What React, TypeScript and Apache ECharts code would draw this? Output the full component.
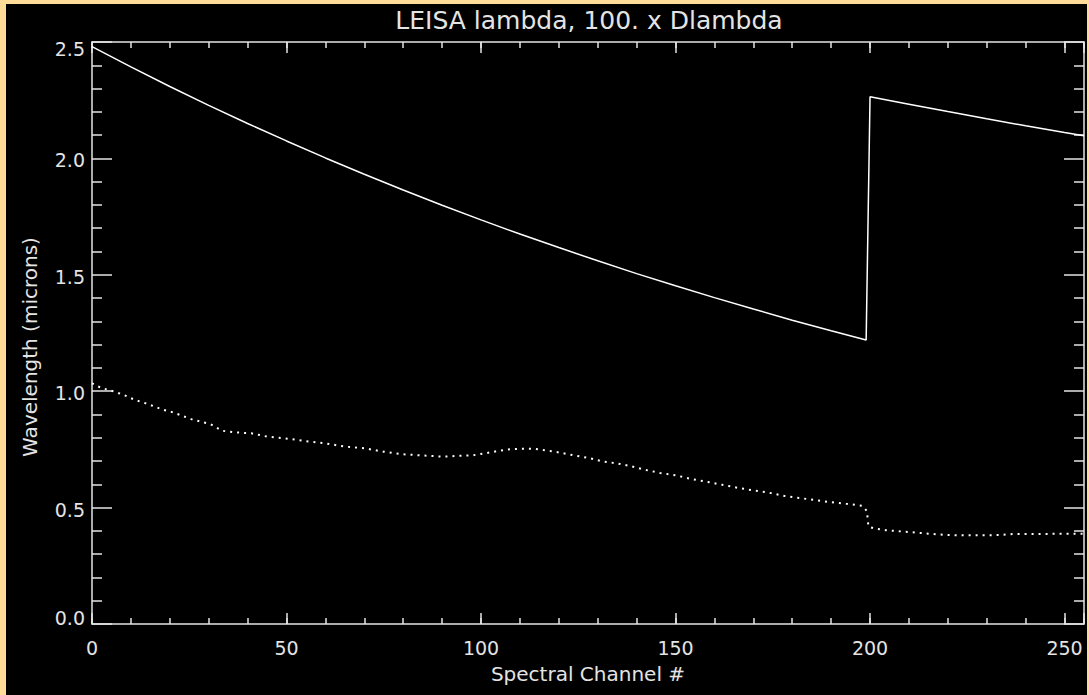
import React, { useEffect, useRef } from "react";
import * as echarts from "echarts";

const titleText = "LEISA lambda, 100. x Dlambda";
const xName = "Spectral Channel #";
const yName = "Wavelength (microns)";

// lambda (solid line)
const lambdaChannels = [0, 10, 20, 30, 40, 50, 60, 70, 80, 90, 100, 110, 120, 130, 140, 150, 160, 170, 180, 190, 199, 200, 210, 220, 230, 240, 250, 255];
const lambdaValues = [2.48, 2.393, 2.309, 2.228, 2.15, 2.075, 2.002, 1.932, 1.864, 1.799, 1.736, 1.675, 1.617, 1.56, 1.505, 1.453, 1.402, 1.353, 1.305, 1.26, 1.22, 2.265, 2.233, 2.201, 2.17, 2.14, 2.111, 2.097];

// 100 x Dlambda (dotted line)
const dlChannels = [0, 1.6, 3.3, 5, 8, 11, 14.5, 18, 21, 25.5, 30.5, 33.5, 37, 41, 45, 48, 51, 55, 60, 65, 70, 75, 80, 85, 90, 94, 98, 101, 104, 107, 111, 114, 117, 120, 124, 128, 131, 135, 138, 142, 146, 150, 154, 158, 162, 166, 170, 174, 178, 182, 186, 190, 194, 198, 199.2, 199.6, 201, 204, 207, 211, 215, 220, 226, 233, 237, 245, 255];
const dlValues = [1.034, 1.02, 1.01, 1.002, 0.985, 0.963, 0.944, 0.922, 0.908, 0.88, 0.858, 0.83, 0.823, 0.819, 0.805, 0.8, 0.795, 0.785, 0.776, 0.762, 0.755, 0.74, 0.729, 0.724, 0.719, 0.722, 0.725, 0.733, 0.742, 0.75, 0.753, 0.752, 0.745, 0.737, 0.724, 0.712, 0.699, 0.69, 0.68, 0.663, 0.649, 0.639, 0.623, 0.611, 0.598, 0.585, 0.574, 0.564, 0.55, 0.541, 0.532, 0.523, 0.516, 0.508, 0.485, 0.418, 0.411, 0.403, 0.399, 0.394, 0.388, 0.382, 0.381, 0.382, 0.387, 0.387, 0.388];

const xMin = 0;
const xMax = 255;
const yMin = 0;
const yMax = 2.5;

const FG = "#e4e4e4";
const FONT = "DejaVu Sans";

function xAxisDef(position: "bottom" | "top", interval: number, len: number, main: boolean) {
  return {
    type: "value",
    position,
    min: xMin,
    max: xMax,
    interval,
    axisLine: { show: main, lineStyle: { color: FG, width: 1.5 } },
    axisTick: { show: true, inside: true, length: len, lineStyle: { color: FG, width: 1.5 } },
    splitLine: { show: false },
    axisLabel: {
      show: main && position === "bottom",
      color: FG,
      fontFamily: FONT,
      fontSize: 19,
      margin: 14,
      formatter: (v: number) => (v % 50 === 0 ? String(v) : ""),
    },
  };
}

function yAxisDef(position: "left" | "right", labels: boolean) {
  return {
    type: "value",
    position,
    min: yMin,
    max: yMax,
    interval: 0.5,
    axisLine: { show: true, onZero: false, lineStyle: { color: FG, width: 1.5 } },
    axisTick: { show: true, inside: true, length: 20, lineStyle: { color: FG, width: 1.5 } },
    minorTick: { show: true, splitNumber: 5, length: 10, lineStyle: { color: FG, width: 1.5 } },
    splitLine: { show: false },
    axisLabel: {
      show: labels,
      color: FG,
      fontFamily: FONT,
      fontSize: 19,
      margin: 7,
      formatter: (v: number) => {
        const s = v.toFixed(1);
        if (v === yMin) return "{lo|" + s + "}";
        if (v === yMax) return "{hi|" + s + "}";
        return "{n|" + s + "}";
      },
      rich: {
        lo: { color: FG, fontFamily: FONT, fontSize: 19, padding: [0, 0, 12, 0] },
        hi: { color: FG, fontFamily: FONT, fontSize: 19, padding: [14, 0, 0, 0] },
        n: { color: FG, fontFamily: FONT, fontSize: 19, padding: [4, 0, 0, 0] },
      },
    },
  };
}

export default function App() {
  const ref = useRef<HTMLDivElement>(null);

  useEffect(() => {
    if (!ref.current) return;
    const chart = echarts.init(ref.current, null, { renderer: "svg" });
    const option: any = {
      animation: false,
      backgroundColor: "#000000",
      title: {
        text: titleText,
        left: 583,
        top: 4,
        textAlign: "center",
        padding: 0,
        textStyle: { color: FG, fontFamily: FONT, fontSize: 25, fontWeight: "normal" },
      },
      grid: { left: 86, top: 38, right: 1, bottom: 71, containLabel: false },
      xAxis: [
        {
          ...xAxisDef("bottom", 50, 11, true),
          name: xName,
          nameLocation: "middle",
          nameGap: 40,
          nameTextStyle: { color: FG, fontFamily: FONT, fontSize: 20 },
        },
        xAxisDef("bottom", 10, 6, false),
        xAxisDef("top", 50, 11, true),
        xAxisDef("top", 10, 6, false),
      ],
      yAxis: [yAxisDef("left", true), yAxisDef("right", false)],
      graphic: [
        {
          type: "text",
          x: 24,
          y: 343,
          rotation: Math.PI / 2,
          style: {
            text: yName,
            fill: FG,
            font: "20px 'DejaVu Sans'",
            align: "center",
            verticalAlign: "middle",
          },
        },
      ],
      series: [
        {
          type: "line",
          xAxisIndex: 0,
          yAxisIndex: 0,
          symbol: "none",
          lineStyle: { color: "#ffffff", width: 1.5 },
          data: lambdaChannels.map((c, i) => [c, lambdaValues[i]]),
        },
        {
          type: "line",
          xAxisIndex: 0,
          yAxisIndex: 0,
          symbol: "none",
          lineStyle: { color: "#ffffff", width: 2, type: [2, 5] },
          data: dlChannels.map((c, i) => [c, dlValues[i]]),
        },
      ],
    };
    chart.setOption(option);
    return () => chart.dispose();
  }, []);

  return (
    <div style={{ position: "fixed", left: 0, top: 0, width: 1089, height: 695, background: "#ffdc98" }}>
      <div ref={ref} style={{ position: "absolute", left: 6, top: 4, width: 1081, height: 691 }} />
    </div>
  );
}
